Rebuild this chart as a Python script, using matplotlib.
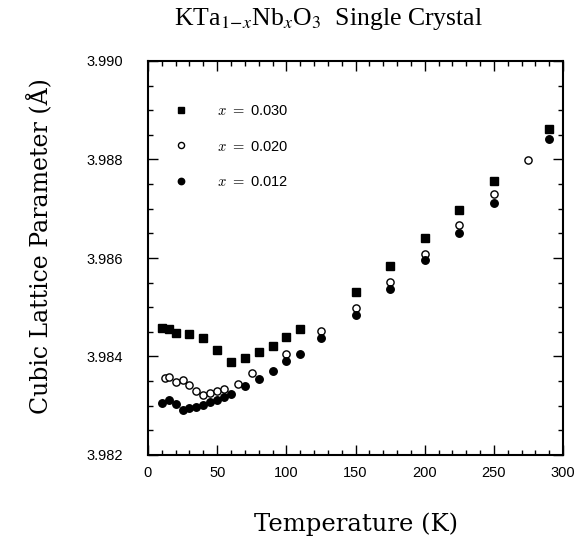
import matplotlib
matplotlib.use("Agg")
import matplotlib.pyplot as plt
from matplotlib.ticker import MultipleLocator, FormatStrFormatter

# x = 0.030 (filled squares)
t_030 = [10, 15, 20, 30, 40, 50, 60, 70, 80, 90, 100, 110,
         150, 175, 200, 225, 250, 290]
a_030 = [3.98458, 3.98455, 3.98448, 3.98446, 3.98438, 3.98414, 3.98389,
         3.98396, 3.98410, 3.98422, 3.98440, 3.98456,
         3.98530, 3.98584, 3.98641, 3.98697, 3.98756, 3.98861]

# x = 0.020 (open circles)
t_020 = [12, 15, 20, 25, 30, 35, 40, 45, 50, 55, 65, 75, 100,
         125, 150, 175, 200, 225, 250, 275]
a_020 = [3.98356, 3.98358, 3.98348, 3.98353, 3.98342, 3.98330, 3.98322,
         3.98325, 3.98329, 3.98335, 3.98344, 3.98366, 3.98406,
         3.98452, 3.98498, 3.98551, 3.98609, 3.98666, 3.98729, 3.98800]

# x = 0.012 (filled circles)
t_012 = [10, 15, 20, 25, 30, 35, 40, 45, 50, 55, 60, 70, 80, 90, 100, 110,
         125, 150, 175, 200, 225, 250, 290]
a_012 = [3.98306, 3.98312, 3.98304, 3.98291, 3.98295, 3.98298, 3.98302,
         3.98307, 3.98312, 3.98318, 3.98324, 3.98341, 3.98354, 3.98370,
         3.98391, 3.98406, 3.98438, 3.98484, 3.98538, 3.98595, 3.98651,
         3.98712, 3.98841]

labels = [r"$x\ =$ 0.030", r"$x\ =$ 0.020", r"$x\ =$ 0.012"]

plt.rcParams["font.family"] = ["Liberation Sans", "DejaVu Sans"]
plt.rcParams["mathtext.fontset"] = "cm"

fig = plt.figure(figsize=(5.87, 5.42), dpi=100)
ax = fig.add_axes([148 / 587, 1 - 455 / 542, 415 / 587, 394 / 542])

ax.plot(t_030, a_030, "s", color="black", ms=5.4, label=labels[0])
ax.plot(t_020, a_020, "o", mfc="white", mec="black", mew=1.0, ms=5.2,
        label=labels[1])
ax.plot(t_012, a_012, "o", color="black", ms=5.4, label=labels[2])

ax.set_xlim(0, 300)
ax.set_ylim(3.982, 3.990)
ax.xaxis.set_major_locator(MultipleLocator(50))
ax.xaxis.set_minor_locator(MultipleLocator(10))
ax.yaxis.set_major_locator(MultipleLocator(0.002))
ax.yaxis.set_minor_locator(MultipleLocator(0.0005))
ax.yaxis.set_major_formatter(FormatStrFormatter("%.3f"))
ax.tick_params(which="both", direction="in", top=True, right=True,
               labelsize=10.5, width=1.0)
ax.tick_params(which="major", length=7)
ax.tick_params(axis="x", which="major", pad=8)
ax.tick_params(axis="y", which="major", pad=18)
ax.tick_params(which="minor", length=3.5)
for s in ax.spines.values():
    s.set_linewidth(1.5)

leg = ax.legend(loc="upper left", bbox_to_anchor=(0.03, 0.925), frameon=False,
                numpoints=1, markerscale=0.85, handlelength=1.0,
                handletextpad=2.0, labelspacing=1.5, fontsize=10.5)

ax.set_xlabel("Temperature (K)", family="DejaVu Serif", fontsize=17.5,
              va="center")
ax.xaxis.set_label_coords(0.5, (455 - 524) / 394)
ax.set_ylabel("Cubic Lattice Parameter (\u00c5)", family="DejaVu Serif",
              fontsize=17, va="center")
ax.yaxis.set_label_coords((40 - 148) / 415, (455 - 246) / 394)

fig.text(328 / 587, 1 - 25 / 542,
         r"KTa$_{1\!-\!x}$Nb$_x$O$_3$  Single Crystal",
         family="Liberation Serif", fontsize=18.5, ha="center",
         va="baseline", math_fontfamily="stix")

fig.savefig("out.png", dpi=100)
